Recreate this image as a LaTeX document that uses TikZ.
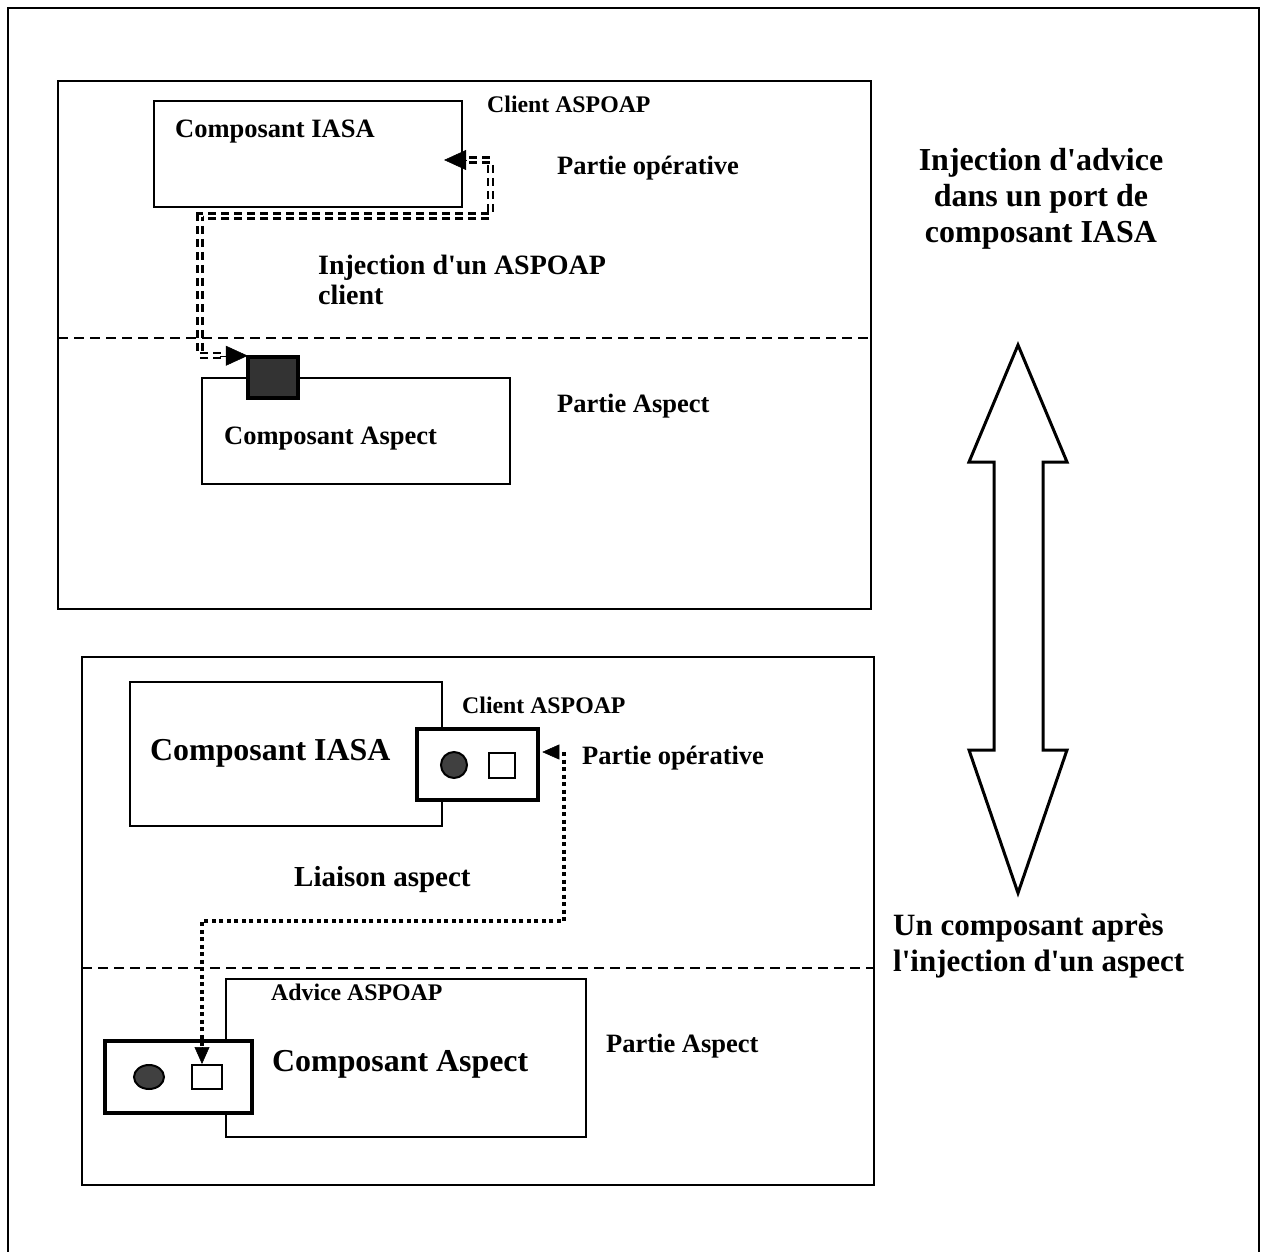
\documentclass[tikz,border=0pt]{standalone}
\usepackage{fontspec}
\setmainfont{Liberation Serif}
\usetikzlibrary{arrows.meta,positioning,calc,shapes.geometric}

\newcommand{\q}{\textquotesingle}

\tikzset{
    box/.style={draw, line width=2.2pt, inner sep=0pt},
    portbox/.style={draw, line width=4.5pt, inner sep=0pt},
    lbl/.style={inner sep=0pt, anchor=base west, font=\bfseries},
    sep/.style={line width=2pt, dash pattern=on 10pt off 6pt},
    dbl/.style={draw, line width=2.2pt, double distance=2.8pt, dash pattern=on 8pt off 5pt},
    dots/.style={line width=4pt, dash pattern=on 4pt off 3.5pt},
    tipA/.style={-{Triangle[length=22pt,width=20pt]}, line width=0.5pt},
    tipB/.style={-{Triangle[length=17pt,width=15pt]}, line width=0.5pt},
}

\begin{document}
\begin{tikzpicture}[x=1pt, y=-1pt]
    \useasboundingbox (0,0) rectangle (1266,1252);
    \clip (0,0) rectangle (1266,1252);
    % frame and the two panels
    \draw[line width=2.5pt] (8,8) rectangle (1259,1280);
    \draw[line width=2pt] (58,81) rectangle (871,609);
    \draw[line width=2pt] (82,657) rectangle (874,1185);
    \draw[sep] (58,338) -- (871,338);
    \draw[sep] (82,968) -- (874,968);

    % upper panel
    \node[box, minimum width=308pt, minimum height=106pt] (iasaA) at (308,154) {};
    \node[box, minimum width=308pt, minimum height=106pt] (aspA) at (356,431) {};
    \node[portbox, fill=black!80, minimum width=50pt, minimum height=41pt] (portA) at (273,377.5) {};
    \node[lbl, font=\bfseries\fontsize{26.5}{30}\selectfont] (tIasaA) at (175,138) {Composant IASA};
    \node[lbl, font=\bfseries\fontsize{26.5}{30}\selectfont] (tAspA) at (224,444) {Composant Aspect};
    \node[lbl, font=\bfseries\fontsize{23.8}{28}\selectfont] (tCliA) at (487,113) {Client ASPOAP};
    \node[lbl, font=\bfseries\fontsize{26.5}{30}\selectfont] (tOpA) at (557,175) {Partie opérative};
    \node[lbl, font=\bfseries\fontsize{26.5}{30}\selectfont] (tPaA) at (557,412) {Partie Aspect};
    \node[lbl, anchor=north west, align=left, font=\bfseries\fontsize{28}{30}\selectfont] (tInjA) at (318,255) {Injection d\q un ASPOAP\\client};

    \coordinate (bendA) at (200,216);
    \draw[dbl] ([xshift=6pt, yshift=-6pt]iasaA.east) -- ++(21,0) |- (bendA) |- ([xshift=-24pt, yshift=-1pt]portA.north west);
    \draw[tipA] ([xshift=3pt, yshift=-6pt]iasaA.east) -- ([xshift=-19pt, yshift=-6pt]iasaA.east);
    \draw[tipA] ([xshift=-26pt, yshift=-1pt]portA.north west) -- ([xshift=2pt, yshift=-1pt]portA.north west);

    % lower panel
    \node[box, minimum width=312pt, minimum height=144pt] (iasaB) at (286,754) {};
    \node[portbox, fill=white, minimum width=121pt, minimum height=71pt] (portB) at (477.5,764.5) {};
    \node[draw, circle, line width=2pt, fill=black!75, minimum size=26pt, inner sep=0pt] (dotB) at (454,765) {};
    \node[draw, line width=2pt, minimum width=26pt, minimum height=25pt, inner sep=0pt] (sqB) at (502,765.5) {};
    \node[box, minimum width=360pt, minimum height=158pt] (aspB) at (406,1058) {};
    \node[portbox, fill=white, minimum width=147pt, minimum height=72pt] (portC) at (178.5,1077) {};
    \node[draw, ellipse, line width=2pt, fill=black!75, minimum width=30pt, minimum height=24pt, inner sep=0pt] (dotC) at (149,1077) {};
    \node[draw, line width=2pt, minimum width=30pt, minimum height=24pt, inner sep=0pt] (sqC) at (207,1077) {};

    \node[lbl, font=\bfseries\fontsize{31.9}{36}\selectfont] (tIasaB) at (150,760) {Composant IASA};
    \node[lbl, font=\bfseries\fontsize{31.9}{36}\selectfont] (tAspB) at (272,1071) {Composant Aspect};
    \node[lbl, font=\bfseries\fontsize{23.8}{28}\selectfont] (tCliB) at (462,713) {Client ASPOAP};
    \node[lbl, font=\bfseries\fontsize{23.8}{28}\selectfont] (tAdvB) at (271,1000) {Advice ASPOAP};
    \node[lbl, font=\bfseries\fontsize{26.5}{30}\selectfont] (tOpB) at (582,764) {Partie opérative};
    \node[lbl, font=\bfseries\fontsize{26.5}{30}\selectfont] (tPaB) at (606,1052) {Partie Aspect};
    \node[lbl, font=\bfseries\fontsize{29}{32}\selectfont] (tLiaB) at (294,886) {Liaison aspect};

    \coordinate (bendB) at (202,921);
    \draw[dots] ([xshift=24pt, yshift=12.5pt]portB.east) |- (bendB) -- ([xshift=-5pt, yshift=17pt]sqC.north);
    \draw[tipB] ([xshift=17pt, yshift=12.5pt]portB.east) -- ([xshift=2pt, yshift=12.5pt]portB.east);
    \draw[tipB] ([xshift=-5pt, yshift=17pt]sqC.north) -- ([xshift=-5pt, yshift=0pt]sqC.north);

    % right side: double arrow and texts
    \draw[line width=3pt, line join=miter] (1018,345) -- (1067,462) -- (1043,462) -- (1043,750) -- (1067,750) -- (1018,893)
        -- (969,750) -- (994,750) -- (994,462) -- (969,462) -- cycle;
    \node[inner sep=0pt, anchor=north, align=center, font=\bfseries\fontsize{32}{36}\selectfont] (tTitleA) at (1041,148) {Injection d\q advice\\dans un port de\\composant IASA};
    \node[inner sep=0pt, anchor=north west, align=left, font=\bfseries\fontsize{31}{36}\selectfont] (tTitleB) at (893,914) {Un composant après\\l\q injection d\q un aspect};
\end{tikzpicture}
\end{document}
